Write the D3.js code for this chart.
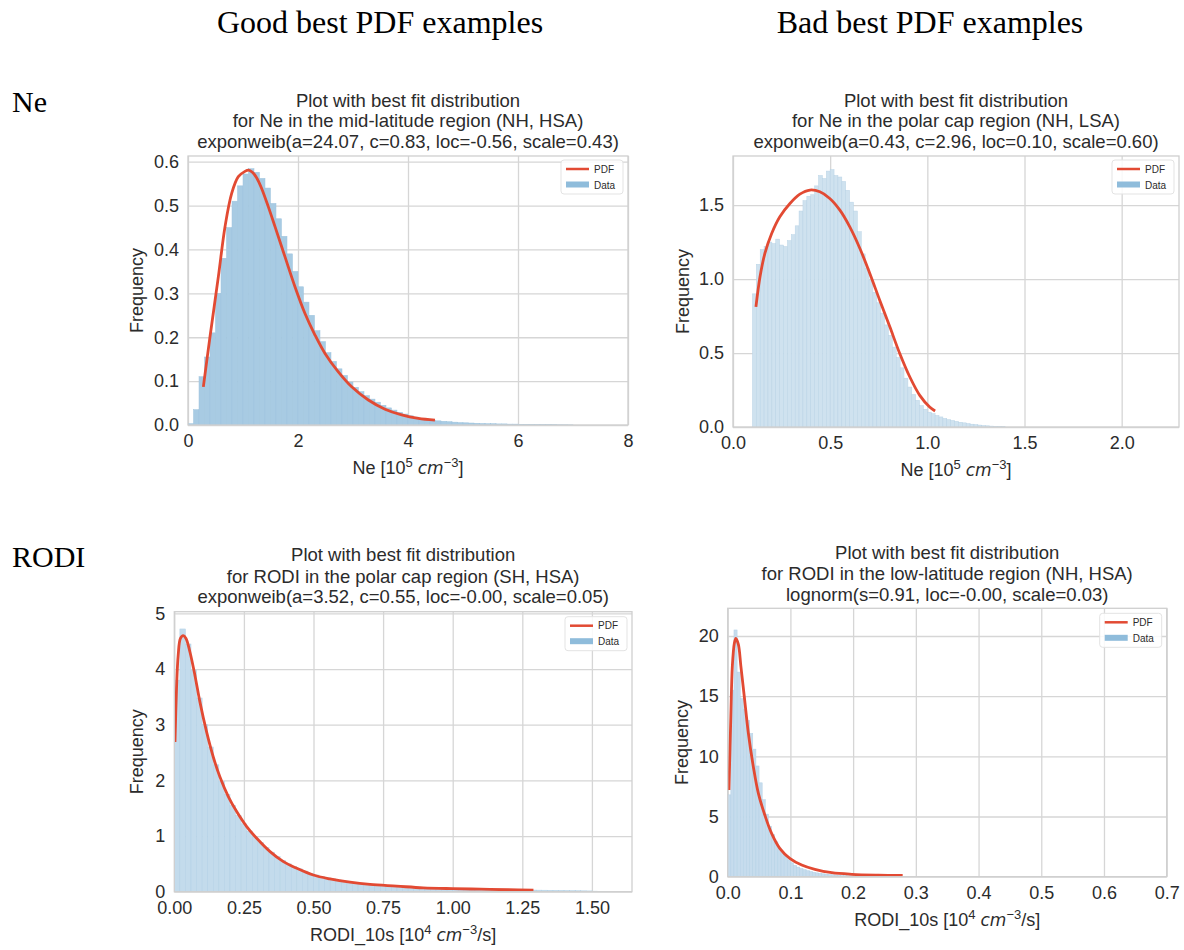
<!DOCTYPE html>
<html>
<head>
<meta charset="utf-8">
<script src="https://cdn.jsdelivr.net/npm/d3@7"></script>
<style>
    body { margin: 0; background: #fff; }
    svg text { font-family: "Liberation Sans", Arial, sans-serif; }
</style>
</head>
<body>
<svg id="chart" width="1184" height="950"></svg>
<script>
// ---- column / row headers ----
const columnHeaders = ["Good best PDF examples", "Bad best PDF examples"];
const rowHeaders = ["Ne", "RODI"];

// ---- Ne, mid-latitude (good fit) ----
const neGoodTitle = ["Plot with best fit distribution",
    "for Ne in the mid-latitude region (NH, HSA)",
    "exponweib(a=24.07, c=0.83, loc=-0.56, scale=0.43)"];
const neGoodBinStart = 0.0;
const neGoodBinWidth = 0.1;
const neGoodHist = [
    0.003, 0.035, 0.11, 0.155, 0.21, 0.30, 0.38, 0.45, 0.51, 0.545,
    0.572, 0.584, 0.576, 0.562, 0.54, 0.505, 0.47, 0.43, 0.39, 0.35,
    0.315, 0.28, 0.25, 0.215, 0.19, 0.165, 0.145, 0.128, 0.113, 0.098,
    0.086, 0.076, 0.067, 0.059, 0.052, 0.045, 0.039, 0.034, 0.029, 0.025,
    0.021, 0.018, 0.015, 0.013, 0.011, 0.0095, 0.0085, 0.0075, 0.0065, 0.0055,
    0.005, 0.0045, 0.004, 0.0035, 0.003, 0.003, 0.0025, 0.0025, 0.002, 0.002,
    0.0015, 0.0015, 0.0012, 0.001, 0.001, 0.0008, 0.0006, 0.0005, 0.0004, 0.0003];
const neGoodPdf = [
    [0.279, 0.087], [0.40, 0.201], [0.552, 0.338], [0.673, 0.452], [0.794, 0.528],
    [0.915, 0.566], [1.036, 0.578], [1.10, 0.581], [1.17, 0.576], [1.25, 0.563],
    [1.339, 0.539], [1.461, 0.497], [1.582, 0.452], [1.764, 0.383], [1.945, 0.315],
    [2.127, 0.254], [2.309, 0.205], [2.491, 0.163], [2.733, 0.121], [2.976, 0.087],
    [3.279, 0.057], [3.582, 0.036], [3.885, 0.023], [4.188, 0.015], [4.49, 0.011]];
const neGoodXTicks = [0, 2, 4, 6, 8];
const neGoodYTicks = [0.0, 0.1, 0.2, 0.3, 0.4, 0.5, 0.6];

// ---- Ne, polar cap (bad fit) ----
const neBadTitle = ["Plot with best fit distribution",
    "for Ne in the polar cap region (NH, LSA)",
    "exponweib(a=0.43, c=2.96, loc=0.10, scale=0.60)"];
const neBadBinStart = 0.10;
const neBadBinWidth = 0.02;
const neBadHist = [
    0.90, 1.10, 1.20, 1.22, 1.25, 1.24, 1.27, 1.23, 1.22, 1.26,
    1.30, 1.36, 1.46, 1.53, 1.56, 1.57, 1.63, 1.70, 1.68, 1.73,
    1.74, 1.70, 1.69, 1.66, 1.60, 1.52, 1.46, 1.32, 1.17, 1.07,
    0.99, 0.91, 0.84, 0.77, 0.69, 0.62, 0.54, 0.47, 0.40, 0.33,
    0.27, 0.22, 0.18, 0.145, 0.12, 0.10, 0.09, 0.078, 0.068, 0.058,
    0.05, 0.044, 0.038, 0.032, 0.028, 0.023, 0.019, 0.016, 0.013, 0.010,
    0.008, 0.006, 0.004, 0.003, 0.002];
const neBadPdf = [
    [0.118, 0.812], [0.139, 1.015], [0.164, 1.173], [0.199, 1.308], [0.241, 1.421],
    [0.293, 1.511], [0.344, 1.574], [0.396, 1.602], [0.447, 1.590], [0.498, 1.545],
    [0.550, 1.466], [0.601, 1.353], [0.653, 1.207], [0.704, 1.038], [0.755, 0.857],
    [0.807, 0.677], [0.858, 0.497], [0.910, 0.338], [0.961, 0.214], [1.012, 0.135],
    [1.040, 0.108]];
const neBadXTicks = [0.0, 0.5, 1.0, 1.5, 2.0];
const neBadYTicks = [0.0, 0.5, 1.0, 1.5];

// ---- RODI, polar cap (good fit) ----
const rodiGoodTitle = ["Plot with best fit distribution",
    "for RODI in the polar cap region (SH, HSA)",
    "exponweib(a=3.52, c=0.55, loc=-0.00, scale=0.05)"];
const rodiGoodBinStart = 0.0;
const rodiGoodBinWidth = 0.02;
const rodiGoodHist = [
    3.8, 4.72, 4.45, 3.98, 3.48, 3.0, 2.6, 2.28, 1.98, 1.75,
    1.55, 1.37, 1.22, 1.09, 0.98, 0.88, 0.79, 0.71, 0.63, 0.56,
    0.50, 0.45, 0.41, 0.37, 0.33, 0.30, 0.27, 0.25, 0.23, 0.21,
    0.19, 0.175, 0.16, 0.15, 0.14, 0.13, 0.12, 0.112, 0.105, 0.098,
    0.092, 0.086, 0.081, 0.076, 0.072, 0.068, 0.064, 0.06, 0.057, 0.054,
    0.051, 0.048, 0.046, 0.044, 0.042, 0.040, 0.038, 0.036, 0.035, 0.034,
    0.033, 0.032, 0.031, 0.030, 0.029, 0.028, 0.027, 0.026, 0.025, 0.024,
    0.022, 0.02, 0.018, 0.016, 0.014, 0.01, 0.006, 0.003];
const rodiGoodPdf = [
    [0.0025, 2.69], [0.008, 3.65], [0.014, 4.25], [0.022, 4.55], [0.032, 4.60],
    [0.042, 4.55], [0.056, 4.31], [0.074, 3.89], [0.092, 3.41], [0.116, 2.87],
    [0.140, 2.42], [0.164, 2.06], [0.194, 1.71], [0.224, 1.44], [0.260, 1.17],
    [0.296, 0.96], [0.344, 0.72], [0.392, 0.54], [0.440, 0.42], [0.499, 0.30],
    [0.559, 0.23], [0.631, 0.17], [0.703, 0.13], [0.799, 0.10], [0.894, 0.07],
    [1.0, 0.055], [1.1, 0.045], [1.2, 0.035], [1.29, 0.03]];
const rodiGoodXTicks = [0, 0.25, 0.5, 0.75, 1.0, 1.25, 1.5];
const rodiGoodYTicks = [0, 1, 2, 3, 4, 5];

// ---- RODI, low-latitude (bad fit) ----
const rodiBadTitle = ["Plot with best fit distribution",
    "for RODI in the low-latitude region (NH, HSA)",
    "lognorm(s=0.91, loc=-0.00, scale=0.03)"];
const rodiBadBinStart = 0.0;
const rodiBadBinWidth = 0.005;
const rodiBadHist = [
    6.8, 15.5, 20.5, 17.0, 14.8, 13.9, 13.0, 11.9, 10.6, 9.2,
    7.8, 6.4, 5.2, 4.2, 3.5, 2.9, 2.4, 2.0, 1.7, 1.4,
    1.15, 0.95, 0.8, 0.68, 0.58, 0.5, 0.43, 0.37, 0.32, 0.28,
    0.24, 0.21, 0.18, 0.16, 0.14, 0.12, 0.10, 0.09, 0.08, 0.07,
    0.06, 0.05, 0.04, 0.03, 0.02, 0.015, 0.01, 0.01, 0.005, 0.005];
const rodiBadPdf = [
    [0.002, 7.2], [0.005, 13.3], [0.0074, 17.5], [0.0106, 19.4], [0.013, 19.8],
    [0.017, 19.3], [0.021, 17.5], [0.027, 14.7], [0.033, 11.9], [0.041, 9.1],
    [0.049, 6.9], [0.060, 5.0], [0.070, 3.6], [0.083, 2.36], [0.099, 1.53],
    [0.118, 0.97], [0.139, 0.61], [0.166, 0.33], [0.198, 0.20], [0.24, 0.13],
    [0.279, 0.10]];
const rodiBadXTicks = [0.0, 0.1, 0.2, 0.3, 0.4, 0.5, 0.6, 0.7];
const rodiBadYTicks = [0, 5, 10, 15, 20];

const neXLabel = [{t: "Ne [10"}, {t: "5", sup: true}, {t: " "}, {t: "cm", it: true}, {t: "\u22123", sup: true}, {t: "]"}];
const rodiXLabel = [{t: "RODI_10s [10"}, {t: "4", sup: true}, {t: " "}, {t: "cm", it: true}, {t: "\u22123", sup: true}, {t: "/s]"}];

const textColor = "#2b2b2b";
const gridColor = "#d6d6d6";
const pdfColor = "#e24a33";

const svg = d3.select("#chart");

svg.append("text").attr("x", 380).attr("y", 33).attr("text-anchor", "middle")
    .style("font-family", "'Liberation Serif', 'Times New Roman', serif")
    .attr("font-size", 32).attr("fill", "#000").text(columnHeaders[0]);
svg.append("text").attr("x", 930).attr("y", 33).attr("text-anchor", "middle")
    .style("font-family", "'Liberation Serif', 'Times New Roman', serif")
    .attr("font-size", 32).attr("fill", "#000").text(columnHeaders[1]);
svg.append("text").attr("x", 12).attr("y", 112)
    .style("font-family", "'Liberation Serif', 'Times New Roman', serif")
    .attr("font-size", 30).attr("fill", "#000").text(rowHeaders[0]);
svg.append("text").attr("x", 12).attr("y", 567)
    .style("font-family", "'Liberation Serif', 'Times New Roman', serif")
    .attr("font-size", 30).attr("fill", "#000").text(rowHeaders[1]);

function drawPanel(p, idx) {
    const g = svg.append("g").attr("transform", `translate(${p.left},${p.top})`);
    const x = d3.scaleLinear().domain(p.xDomain).range([0, p.width]);
    const y = d3.scaleLinear().domain(p.yDomain).range([p.height, 0]);

    const clipId = "clip" + idx;
    g.append("clipPath").attr("id", clipId)
        .append("rect").attr("width", p.width).attr("height", p.height);

    // grid + tick labels
    const xAxis = g.append("g").attr("transform", `translate(0,${p.height})`)
        .call(d3.axisBottom(x).tickValues(p.xTicks).tickFormat(d3.format(p.xFormat))
            .tickSize(-p.height).tickPadding(p.xPad));
    const yAxis = g.append("g")
        .call(d3.axisLeft(y).tickValues(p.yTicks).tickFormat(d3.format(p.yFormat))
            .tickSize(-p.width).tickPadding(9));
    [xAxis, yAxis].forEach(a => {
        a.select(".domain").remove();
        a.selectAll("line").attr("stroke", gridColor).attr("stroke-width", 1.3);
        a.selectAll("text").attr("fill", textColor).attr("font-size", 18)
            .style("font-family", "'Liberation Sans', Arial, sans-serif");
    });

    // histogram
    const bins = p.hist.map((h, i) => ({
        x0: p.binStart + i * p.binWidth,
        x1: p.binStart + (i + 1) * p.binWidth,
        h: h
    }));
    g.append("g").attr("clip-path", `url(#${clipId})`)
        .selectAll("rect").data(bins).join("rect")
        .attr("x", d => x(d.x0))
        .attr("width", d => Math.max(0, x(d.x1) - x(d.x0)))
        .attr("y", d => y(d.h))
        .attr("height", d => y(0) - y(d.h))
        .attr("fill", p.barColor)
        .attr("stroke", p.barEdge)
        .attr("stroke-width", 0.5);

    // fitted pdf
    const line = d3.line()
        .x(d => x(d[0]))
        .y(d => y(d[1]))
        .curve(d3.curveCatmullRom.alpha(0.5));
    g.append("path").datum(p.pdf)
        .attr("d", line)
        .attr("fill", "none")
        .attr("stroke", pdfColor)
        .attr("stroke-width", 2.8)
        .attr("stroke-linecap", "butt")
        .attr("clip-path", `url(#${clipId})`);

    // frame
    g.append("rect").attr("width", p.width).attr("height", p.height)
        .attr("fill", "none").attr("stroke", "#cfcfcf").attr("stroke-width", 1.3);

    // title
    p.title.forEach((t, i) => {
        g.append("text").attr("x", p.width / 2).attr("y", p.titleY[i])
            .attr("text-anchor", "middle").attr("font-size", 18.5)
            .attr("fill", textColor).text(t);
    });

    // axis labels
    g.append("text")
        .attr("transform", `translate(${-p.yLabelOffset},${p.height / 2}) rotate(-90)`)
        .attr("text-anchor", "middle").attr("font-size", 18).attr("fill", textColor)
        .text("Frequency");

    const xl = g.append("text").attr("x", p.width / 2).attr("y", p.height + 49)
        .attr("text-anchor", "middle").attr("font-size", 18).attr("fill", textColor);
    let shifted = false;
    p.xLabel.forEach(part => {
        const ts = xl.append("tspan").text(part.t);
        if (part.sup && !shifted) {
            ts.attr("dy", -7).attr("font-size", 13);
            shifted = true;
        } else if (part.sup) {
            ts.attr("font-size", 13);
        } else if (shifted) {
            ts.attr("dy", 7);
            shifted = false;
        }
        if (part.it) ts.attr("font-style", "italic")
            .style("font-family", "'DejaVu Sans', sans-serif").attr("font-size", 17);
    });

    // legend
    const lg = g.append("g").attr("transform", `translate(${p.width - 67},${p.legendTop})`);
    lg.append("rect").attr("width", 62).attr("height", 34).attr("rx", 3)
        .attr("fill", "#fff").attr("fill-opacity", 0.85)
        .attr("stroke", "#e3e3e3").attr("stroke-width", 1);
    lg.append("line").attr("x1", 5).attr("x2", 28).attr("y1", 9).attr("y2", 9)
        .attr("stroke", pdfColor).attr("stroke-width", 2.5);
    lg.append("text").attr("x", 33).attr("y", 12.5).attr("font-size", 10)
        .attr("fill", textColor).text("PDF");
    lg.append("rect").attr("x", 5).attr("y", 21.5).attr("width", 23).attr("height", 6)
        .attr("fill", "#8fbcdb");
    lg.append("text").attr("x", 33).attr("y", 28.5).attr("font-size", 10)
        .attr("fill", textColor).text("Data");
}

const panels = [
    {
        left: 188, top: 156, width: 440, height: 269,
        xDomain: [0, 8], yDomain: [0, 0.613],
        xTicks: neGoodXTicks, yTicks: neGoodYTicks, xFormat: "d", yFormat: ".1f", xPad: 9.5,
        binStart: neGoodBinStart, binWidth: neGoodBinWidth, hist: neGoodHist, pdf: neGoodPdf,
        barColor: "#a8cbe3", barEdge: "#9ec3dd",
        title: neGoodTitle, titleY: [-49.5, -29, -8.5], yLabelOffset: 45, xLabel: neXLabel, legendTop: 4
    },
    {
        left: 733, top: 156, width: 446, height: 271,
        xDomain: [0, 2.295], yDomain: [0, 1.832],
        xTicks: neBadXTicks, yTicks: neBadYTicks, xFormat: ".1f", yFormat: ".1f", xPad: 9.5,
        binStart: neBadBinStart, binWidth: neBadBinWidth, hist: neBadHist, pdf: neBadPdf,
        barColor: "#cfe2ef", barEdge: "#b9d3e6",
        title: neBadTitle, titleY: [-49.5, -29, -8.5], yLabelOffset: 44, xLabel: neXLabel, legendTop: 4
    },
    {
        left: 174.3, top: 611.7, width: 457.7, height: 280,
        xDomain: [0, 1.644], yDomain: [0, 5.03],
        xTicks: rodiGoodXTicks, yTicks: rodiGoodYTicks, xFormat: ".2f", yFormat: "d", xPad: 10,
        binStart: rodiGoodBinStart, binWidth: rodiGoodBinWidth, hist: rodiGoodHist, pdf: rodiGoodPdf,
        barColor: "#c3dbec", barEdge: "#b2d0e5",
        title: rodiGoodTitle, titleY: [-51, -29, -9], yLabelOffset: 31, xLabel: rodiXLabel, legendTop: 5
    },
    {
        left: 727.7, top: 608.3, width: 439, height: 268.4,
        xDomain: [0, 0.7], yDomain: [0, 22.3],
        xTicks: rodiBadXTicks, yTicks: rodiBadYTicks, xFormat: ".1f", yFormat: "d", xPad: 9.5,
        binStart: rodiBadBinStart, binWidth: rodiBadBinWidth, hist: rodiBadHist, pdf: rodiBadPdf,
        barColor: "#c6dced", barEdge: "#b4d1e6",
        title: rodiBadTitle, titleY: [-49, -28, -7.5], yLabelOffset: 40, xLabel: rodiXLabel, legendTop: 5
    }
];

panels.forEach((p, i) => drawPanel(p, i));
</script>
</body>
</html>
